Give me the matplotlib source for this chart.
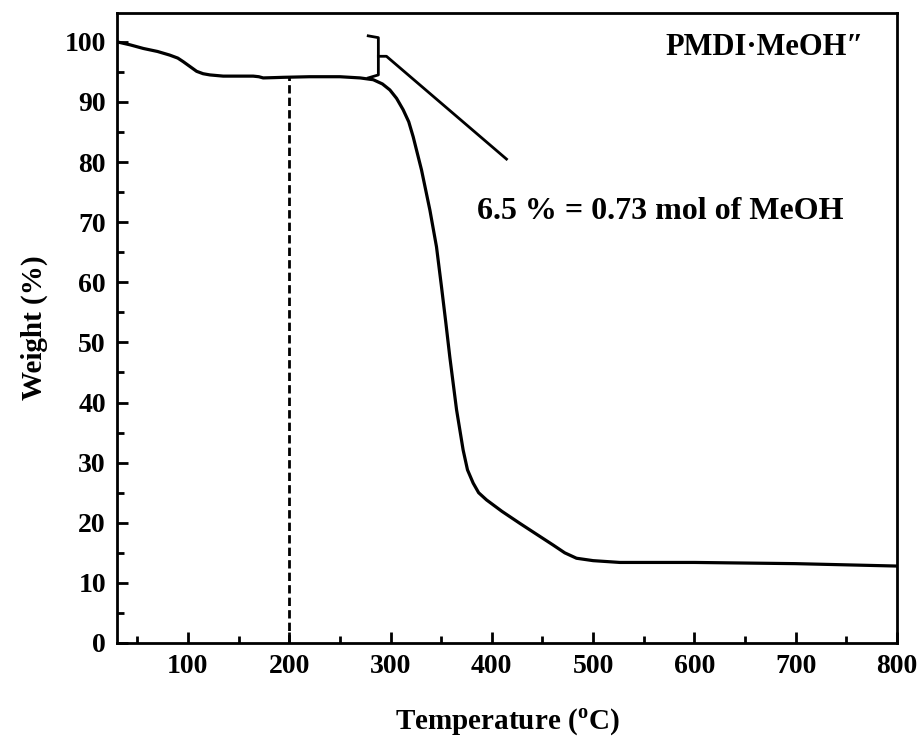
import matplotlib
matplotlib.use('Agg')
import matplotlib.pyplot as plt
from matplotlib.ticker import MultipleLocator

# TGA curve
temp = [30, 43, 56, 70, 82, 90, 95.4, 102, 108.6, 115, 121.7, 134.8, 150, 164.4,
        170, 174.3, 185, 194, 220, 250, 270, 283, 292, 299.4, 306, 312.5, 318,
        322.4, 330.6, 338.9, 345.4, 350.3, 354.6, 358.6, 365.2, 371.7, 376,
        381.6, 387, 394.8, 410, 427.7, 445, 460.5, 472, 483.6, 500, 526.4, 600,
        700, 800]
weight = [100.0, 99.5, 98.9, 98.4, 97.8, 97.3, 96.7, 95.9, 95.1, 94.7, 94.5,
          94.3, 94.3, 94.3, 94.2, 94.0, 94.05, 94.1, 94.2, 94.2, 94.0, 93.7,
          93.0, 92.0, 90.6, 88.7, 86.7, 84.2, 78.7, 72.0, 65.9, 59.3, 53.3,
          47.5, 38.8, 32.1, 28.8, 26.6, 25.0, 23.8, 21.9, 19.9, 18.0, 16.3,
          15.0, 14.1, 13.7, 13.4, 13.4, 13.2, 12.8]

# bracket marking the 6.5 % step and its leader line
brk_x = [278, 288, 288, 278]
brk_y = [101.0, 100.7, 94.5, 94.0]
lead_x = [288, 296, 414.5]
lead_y = [97.6, 97.6, 80.5]

plt.rcParams['font.family'] = ['Liberation Serif', 'DejaVu Serif']
plt.rcParams['font.weight'] = 'bold'
plt.rcParams['mathtext.fontset'] = 'custom'
plt.rcParams['mathtext.rm'] = 'Liberation Serif:bold'

fig = plt.figure(figsize=(9.24, 7.44), dpi=100)
ax = fig.add_axes([117/924, 1-643/744, 780/924, 630/744])

ax.plot(temp, weight, color='black', lw=2.3, solid_joinstyle='round')
ax.plot([200, 200], [0, 94.2], color='black', lw=2, ls=(0, (3, 1.5)))
ax.plot(brk_x, brk_y, color='black', lw=2)
ax.plot(lead_x, lead_y, color='black', lw=2)

ax.text(669.5, 99.0, 'PMDI\u00b7MeOH\u2033', ha='center', va='center',
        fontsize=22, fontweight='bold')
ax.text(566, 71.7, '6.5 % = 0.73 mol of MeOH', ha='center', va='center',
        fontsize=23, fontweight='bold')

ax.set_xlim(30, 800)
ax.set_ylim(0, 104.8)
ax.xaxis.set_major_locator(MultipleLocator(100))
ax.xaxis.set_minor_locator(MultipleLocator(50))
ax.yaxis.set_major_locator(MultipleLocator(10))
ax.yaxis.set_minor_locator(MultipleLocator(5))
ax.tick_params(which='both', direction='in', width=2, labelsize=20, pad=8)
ax.tick_params(which='major', length=8)
ax.tick_params(which='minor', length=5)
for lab in ax.get_xticklabels() + ax.get_yticklabels():
    lab.set_fontweight('bold')
for s in ax.spines.values():
    s.set_linewidth(2)

ax.set_xlabel('Temperature ($^\\mathrm{o}$C)', fontsize=21, fontweight='bold', labelpad=20)
ax.set_ylabel('Weight (%)', fontsize=21, fontweight='bold', labelpad=12)

fig.savefig('out.png', dpi=100)
